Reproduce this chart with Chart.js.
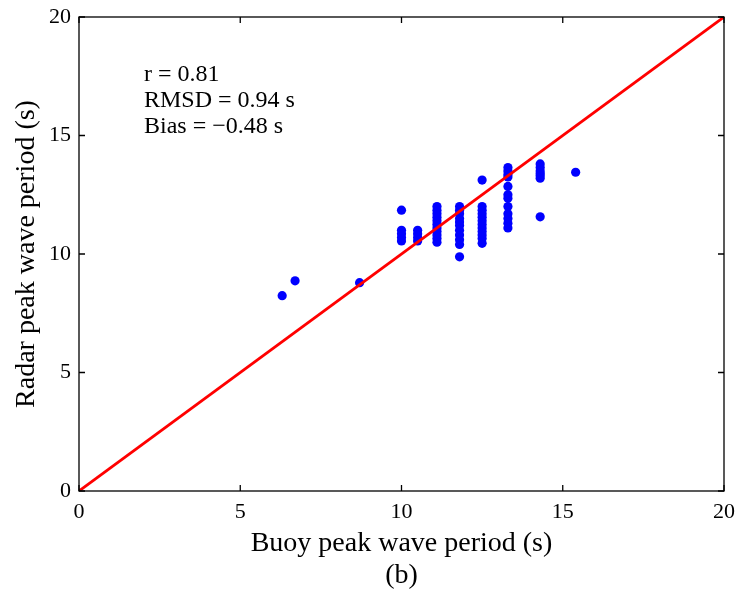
<!DOCTYPE html>
<html>
<head>
<meta charset="utf-8">
<script src="https://cdn.jsdelivr.net/npm/chart.js@4.4.1/dist/chart.umd.min.js"></script>
<style>
  html, body { margin: 0; padding: 0; background: #fff; }
  #wrap { width: 739px; height: 589px; }
</style>
</head>
<body>
<div id="wrap"><canvas id="canvas-period"></canvas></div>
<script>
// buoy vs radar peak wave period, seconds
const buoyPeriod = [
  6.3, 6.7, 8.7,
  10.0, 10.0, 10.0, 10.0, 10.0,
  10.5, 10.5, 10.5, 10.5,
  11.1, 11.1, 11.1, 11.1, 11.1, 11.1, 11.1, 11.1, 11.1, 11.1, 11.1,
  11.8, 11.8, 11.8, 11.8, 11.8, 11.8, 11.8, 11.8, 11.8, 11.8, 11.8,
  12.5, 12.5, 12.5, 12.5, 12.5, 12.5, 12.5, 12.5, 12.5, 12.5, 12.5, 12.5,
  13.3, 13.3, 13.3, 13.3, 13.3, 13.3, 13.3, 13.3, 13.3, 13.3, 13.3, 13.3,
  14.3, 14.3, 14.3, 14.3, 14.3, 14.3, 14.3,
  15.4
];
const radarPeriod = [
  8.24, 8.87, 8.79,
  11.85, 11.0, 10.85, 10.7, 10.55,
  11.0, 10.85, 10.7, 10.55,
  12.0, 11.85, 11.7, 11.55, 11.4, 11.25, 11.1, 10.95, 10.8, 10.65, 10.5,
  12.0, 11.85, 11.7, 11.5, 11.35, 11.2, 11.0, 10.8, 10.6, 10.4, 9.88,
  13.12, 12.0, 11.85, 11.7, 11.55, 11.4, 11.25, 11.1, 10.95, 10.8, 10.65, 10.45,
  13.65, 13.5, 13.35, 13.25, 12.85, 12.5, 12.35, 12.0, 11.7, 11.5, 11.3, 11.1,
  13.8, 13.65, 13.5, 13.4, 13.3, 13.2, 11.57,
  13.45
];
const axisTicks = [0, 5, 10, 15, 20];
const statLines = ["r = 0.81", "RMSD = 0.94 s", "Bias = \u22120.48 s"];

const serif = "'Liberation Serif', 'Times New Roman', serif";

// matlab style box with inward ticks on every side, plus the stats text
const boxPlugin = {
  id: "boxTicks",
  afterDraw(chart) {
    const { ctx, chartArea: a, scales } = chart;
    ctx.save();
    ctx.strokeStyle = "#000";
    ctx.lineWidth = 1.3;
    ctx.strokeRect(a.left, a.top, a.right - a.left, a.bottom - a.top);
    const len = 6;
    ctx.beginPath();
    axisTicks.forEach((t) => {
      const x = scales.x.getPixelForValue(t);
      ctx.moveTo(x, a.bottom); ctx.lineTo(x, a.bottom - len);
      ctx.moveTo(x, a.top); ctx.lineTo(x, a.top + len);
      const y = scales.y.getPixelForValue(t);
      ctx.moveTo(a.left, y); ctx.lineTo(a.left + len, y);
      ctx.moveTo(a.right, y); ctx.lineTo(a.right - len, y);
    });
    ctx.stroke();
    ctx.fillStyle = "#000";
    ctx.font = "24px " + serif;
    ctx.textBaseline = "alphabetic";
    ctx.textAlign = "left";
    statLines.forEach((s, i) => ctx.fillText(s, 144, 81 + i * 25.8));
    ctx.restore();
  },
};

const points = buoyPeriod.map((b, i) => ({ x: b, y: radarPeriod[i] }));

new Chart(document.getElementById("canvas-period"), {
  type: "scatter",
  data: {
    datasets: [
      {
        type: "line",
        data: [{ x: 0, y: 0 }, { x: 20, y: 20 }],
        borderColor: "#ff0000",
        borderWidth: 2.8,
        pointRadius: 0,
        order: 1,
      },
      {
        data: points,
        backgroundColor: "#0000ff",
        borderColor: "#0000ff",
        pointRadius: 4.6,
        borderWidth: 0,
        order: 2,
      },
    ],
  },
  options: {
    responsive: true,
    maintainAspectRatio: false,
    animation: false,
    layout: { padding: { top: 17, right: 15, left: 0, bottom: 0 } },
    plugins: { legend: { display: false }, tooltip: { enabled: false } },
    scales: {
      x: {
        type: "linear",
        min: 0,
        max: 20,
        afterFit: (s) => { s.height = 98; s.paddingLeft = 0; s.paddingRight = 0; },
        afterBuildTicks: (s) => { s.ticks = axisTicks.map((v) => ({ value: v })); },
        grid: { display: false, drawTicks: false },
        border: { display: false },
        ticks: { color: "#000", font: { family: serif, size: 22 }, padding: 8, maxRotation: 0 },
        title: {
          display: true,
          text: ["Buoy peak wave period (s)", "(b)"],
          color: "#000",
          font: { family: serif, size: 28, lineHeight: 1.15 },
          padding: { top: 0, bottom: -3 },
        },
      },
      y: {
        type: "linear",
        min: 0,
        max: 20,
        afterFit: (s) => { s.width = 79; s.paddingTop = 0; s.paddingBottom = 0; },
        afterBuildTicks: (s) => { s.ticks = axisTicks.map((v) => ({ value: v })); },
        grid: { display: false, drawTicks: false },
        border: { display: false },
        ticks: { color: "#000", font: { family: serif, size: 22 }, padding: 8 },
        title: {
          display: true,
          text: "Radar peak wave period (s)",
          color: "#000",
          font: { family: serif, size: 28 },
          padding: { top: 10, bottom: 4 },
        },
      },
    },
  },
  plugins: [boxPlugin],
});
</script>
</body>
</html>
